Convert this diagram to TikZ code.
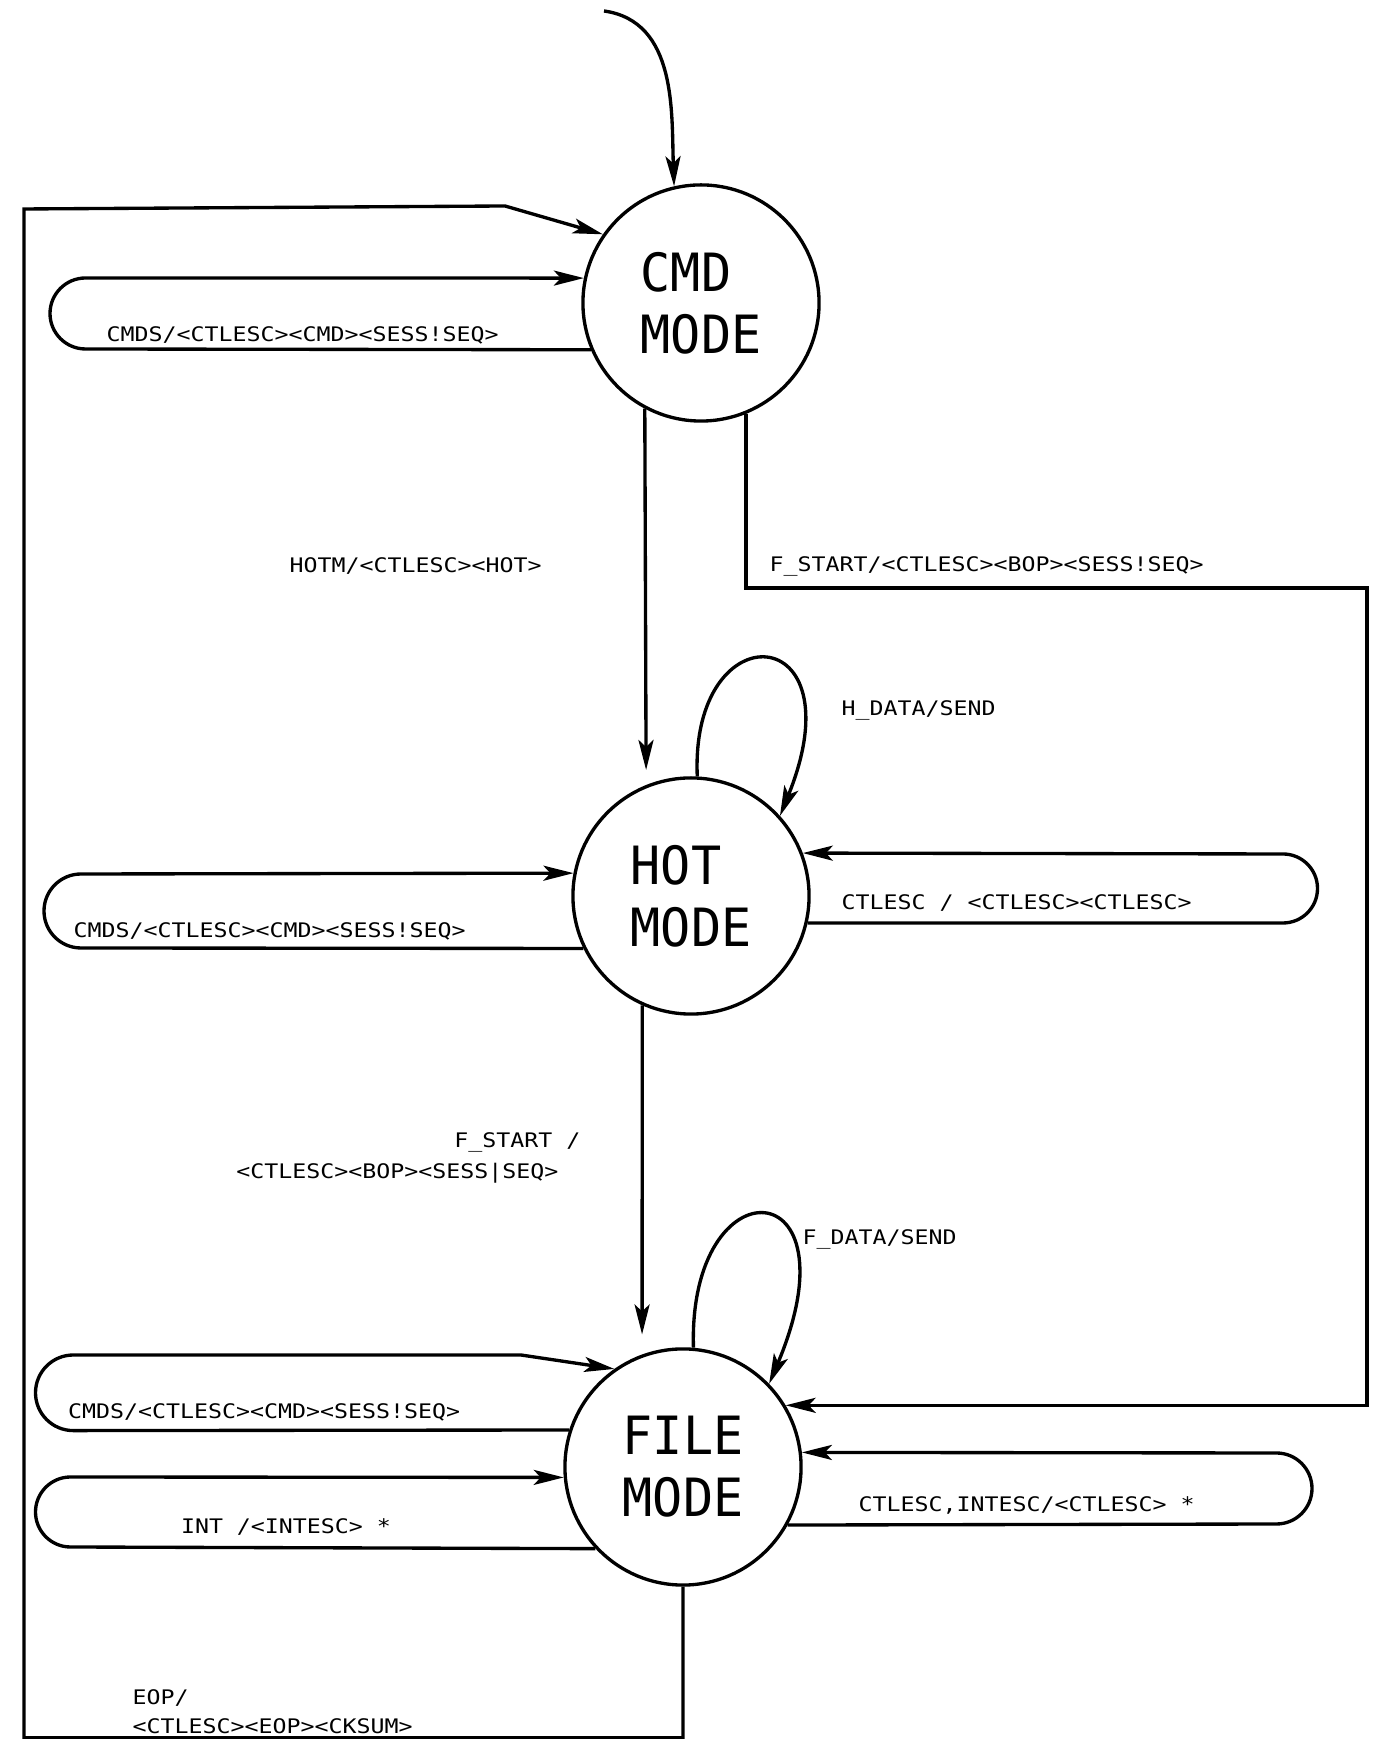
\documentclass[tikz,border=0pt]{standalone}
\usepackage{fontspec}
\usetikzlibrary{arrows.meta}
\newfontfamily\lblfont[FakeStretch=1.16]{DejaVu Sans Mono}
\newfontfamily\statefont[FakeStretch=0.95]{DejaVu Sans Mono}

\begin{document}
\begin{tikzpicture}[x=0.01cm,y=0.01cm,line width=0.95pt,
  arr/.style={-{Stealth[length=0.3cm,width=0.15cm,inset=0.07cm]}},
  stateC/.style={circle,draw,minimum size=2.36cm,inner sep=0pt,align=left,
    font=\statefont\fontsize{15}{17.6}\selectfont},
  lbl/.style={inner sep=0pt,font=\lblfont\fontsize{5.7}{8.2}\selectfont}]
\useasboundingbox (0,0) rectangle (1373,1739);

% states
\node[stateC] (CMD)  at (701,1436) {CMD\\MODE};
\node[stateC] (HOT)  at (691,843)  {HOT\\MODE};
\node[stateC] (FILE) at (683,272)  {FILE\\MODE};

% initial transition
\coordinate (start) at (604,1728);
\draw[arr] (start) to[out=-8,in=92] (CMD.103);

% CMD: command loop on the left
\draw[arr] (CMD.203) -- (85.5,1390) arc[start angle=270,end angle=90,radius=35.5] -- (CMD.168);
\node[lbl,anchor=west] (lcmd) at (105,1404) {CMDS/<CTLESC><CMD><SESS!SEQ>};

% CMD -> HOT
\draw[arr,shorten >=0.15cm] (CMD.242) -- (HOT.112);
\node[lbl,anchor=west] (lhotm) at (288,1173) {HOTM/<CTLESC><HOT>};

% CMD -> FILE
\coordinate (fr1) at (1367,1151);
\draw[arr] (CMD.292) |- (fr1) |- (FILE.31);
\node[lbl,anchor=west] (lfstart) at (768,1173) {F\_START/<CTLESC><BOP><SESS!SEQ>};

% HOT: data self loop
\draw[arr] (HOT.87) .. controls (690,1130) and (860,1120) .. (HOT.42);
\node[lbl,anchor=west] (lhdata) at (840,1029) {H\_DATA/SEND};

% HOT: command loop on the left
\draw[arr] (HOT.206) -- (81,791) arc[start angle=270,end angle=90,radius=37] -- (HOT.169);
\node[lbl,anchor=west] (lhcmd) at (72,807.5) {CMDS/<CTLESC><CMD><SESS!SEQ>};

% HOT: escape loop on the right
\draw[arr] (HOT.347) -- (1283,816) arc[start angle=-90,end angle=90,radius=34.5] -- (HOT.21);
\node[lbl,anchor=west] (lhesc) at (840,836) {CTLESC / <CTLESC><CTLESC>};

% HOT -> FILE
\draw[arr,shorten >=0.2cm] (HOT.246) -- (FILE.110);
\node[lbl,anchor=east] (lfs1) at (582,597) {F\_START /};
\node[lbl,anchor=east] (lfs2) at (560,566) {<CTLESC><BOP><SESS|SEQ>};

% FILE: data self loop
\draw[arr] (FILE.85) .. controls (688,578) and (860,570) .. (FILE.44);
\node[lbl,anchor=west] (lfdata) at (801,500) {F\_DATA/SEND};

% FILE: command loop on the left
\draw[arr] (FILE.162) -- (73.3,308.4) arc[start angle=270,end angle=90,radius=37.8] -- (521,384) -- (FILE.125);
\node[lbl,anchor=west] (lfcmd) at (66.5,327) {CMDS/<CTLESC><CMD><SESS!SEQ>};

% FILE: interrupt loop on the left
\draw[arr] (FILE.223) -- (70.5,192) arc[start angle=270,end angle=90,radius=35] -- (FILE.185);
\node[lbl] (lint) at (286,212) {INT /<INTESC> *};

% FILE: escape loop on the right
\draw[arr] (FILE.331) -- (1276.5,215) arc[start angle=-90,end angle=90,radius=35.5] -- (FILE.7);
\node[lbl,anchor=west] (lfesc) at (857,234) {CTLESC,INTESC/<CTLESC> *};

% FILE -> CMD (end of page)
\coordinate (b1) at (24,1530);
\coordinate (b2) at (505,1533);
\draw[arr] (FILE.south) -- ++(0,-151) -| (b1) -- (b2) -- (CMD.145);
\node[lbl,anchor=west,align=left] (leop) at (131,27.5) {EOP/\\<CTLESC><EOP><CKSUM>};
\end{tikzpicture}
\end{document}
